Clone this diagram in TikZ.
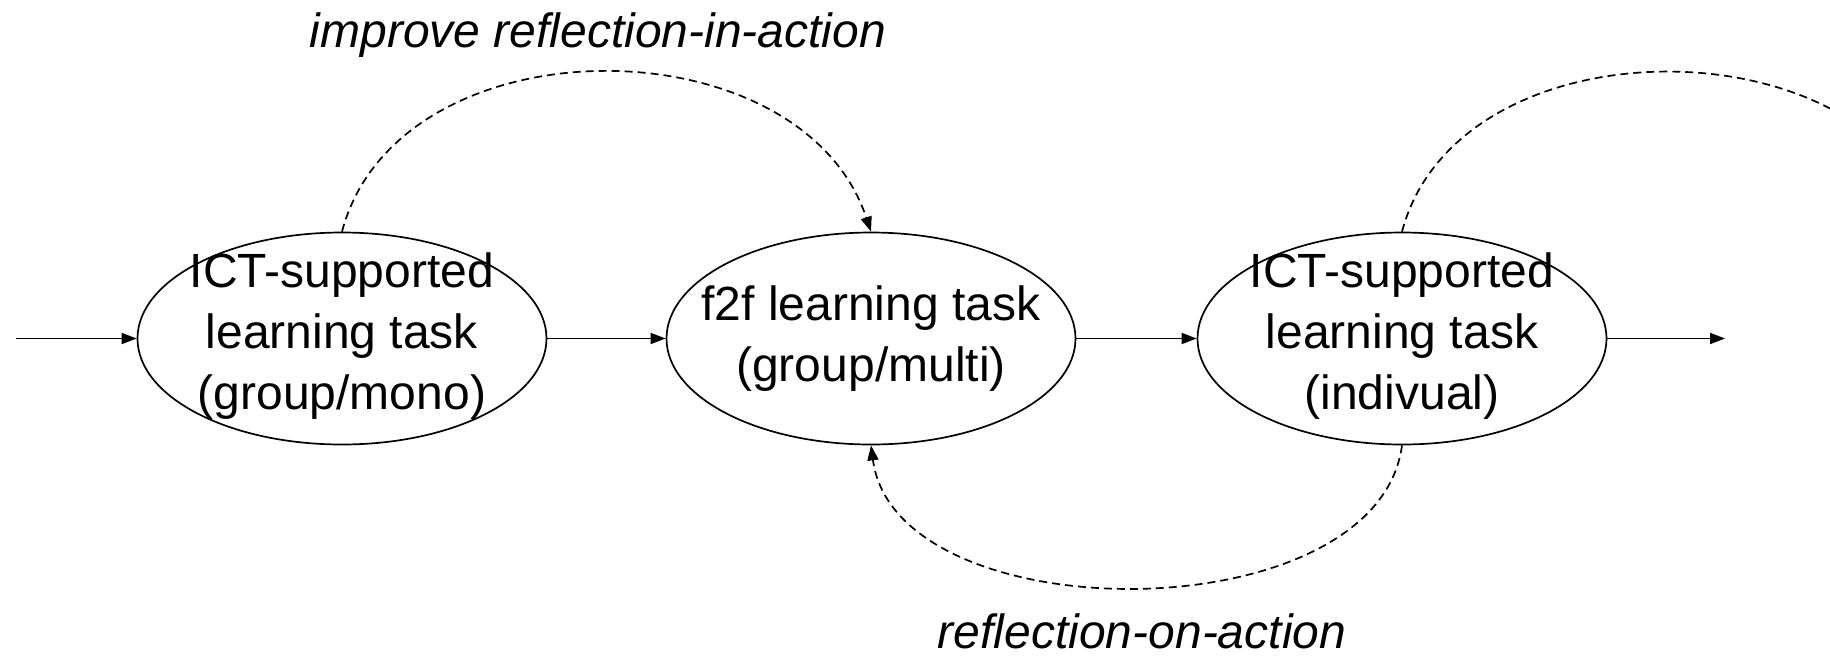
\documentclass[tikz,border=0pt]{standalone}
\usepackage{fontspec}
\setmainfont{Liberation Sans}
\usetikzlibrary{shapes.geometric,arrows.meta}
\begin{document}
\begin{tikzpicture}[x=1pt,y=-1pt,
  task/.style={draw, ellipse, line width=1.7pt, minimum width=409pt, minimum height=212pt, inner sep=0pt},
  tasktext/.style={align=center, font=\fontsize{48}{61}\selectfont, inner sep=0pt},
  flow/.style={-{Triangle[length=15pt,width=11pt]}, line width=1.7pt},
  loopline/.style={-{Triangle[length=15pt,width=11pt]}, line width=1.7pt, dash pattern=on 8pt off 5pt},
  lbl/.style={font=\fontsize{48}{58}\selectfont\itshape, inner sep=0pt, anchor=base}]
\useasboundingbox (0,0) rectangle (1830,657);
\clip (0,0) rectangle (1830,657);
\node[task] (e1) at (342,338.5) {};
\node[tasktext] (t1) at ([yshift=2pt]e1.center) {ICT-supported\\learning task\\(group/mono)};
\node[task] (e2) at (871,338.5) {};
\node[tasktext] (t2) at (e2.center) {f2f learning task\\(group/multi)};
\node[task] (e3) at (1402,338.5) {};
\node[tasktext] (t3) at ([yshift=2pt]e3.center) {ICT-supported\\learning task\\(indivual)};
\coordinate (inpt) at (16,338.5);
\coordinate (outpt) at (1725,338.5);
\coordinate (nextpt) at (1936,233);
\draw[flow] (inpt) -- (e1.west);
\draw[flow] (e1.east) -- (e2.west);
\draw[flow] (e2.east) -- (e3.west);
\draw[flow] (e3.east) -- (outpt);
\draw[loopline] (e1.north) .. controls +(56,-212) and +(-71,-212) .. (e2.north);
\draw[loopline] (e3.north) .. controls +(56,-212) and +(-71,-212) .. (nextpt);
\draw[loopline] (e3.south) .. controls +(-25,189) and +(25,189) .. (e2.south);
\node[lbl] (l1) at (598,47) {improve reflection-in-action};
\node[lbl] (l2) at (1142,648) {reflection-on-action};
\end{tikzpicture}
\end{document}
